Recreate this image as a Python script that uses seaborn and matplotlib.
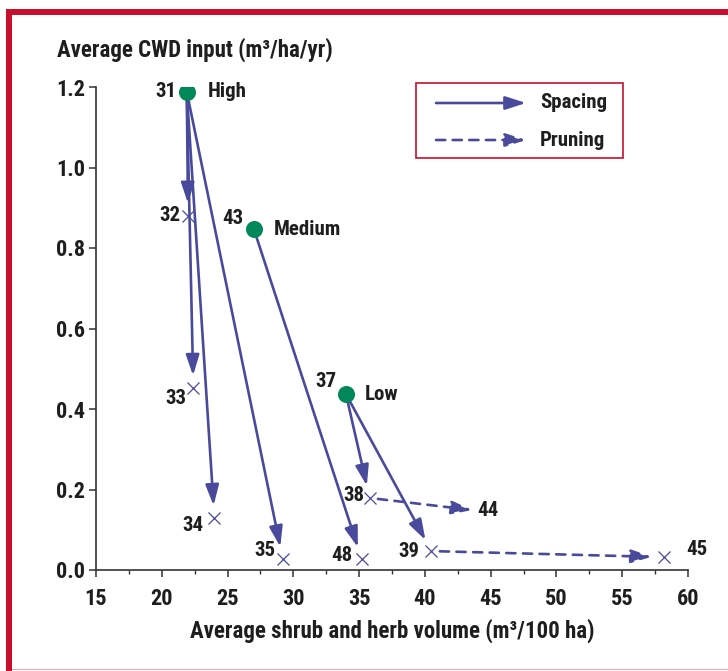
import numpy as np
import pandas as pd
import matplotlib
matplotlib.use("Agg")
import matplotlib.pyplot as plt
import seaborn as sns
from matplotlib import font_manager as fm
from matplotlib.patches import Rectangle
from matplotlib.ticker import MultipleLocator, FormatStrFormatter

# ---------------- data ----------------
start_ids = ["31", "43", "37"]
start_x = [21.9, 27.0, 34.0]
start_y = [1.188, 0.847, 0.437]
start_names = ["High", "Medium", "Low"]

result_ids = ["32", "33", "34", "35", "48", "38", "39", "45"]
result_x = [22.0, 22.4, 24.0, 29.2, 35.2, 35.8, 40.5, 58.2]
result_y = [0.880, 0.452, 0.129, 0.027, 0.027, 0.179, 0.047, 0.032]

end_ids = ["44"]
end_x = [43.6]
end_y = [0.149]

spacing_from = ["31", "31", "31", "31", "43", "37", "37"]
spacing_to = ["32", "33", "34", "35", "48", "38", "39"]
pruning_from = ["38", "39"]
pruning_to = ["44", "45"]

x_ticks = [15, 20, 25, 30, 35, 40, 45, 50, 55, 60]
y_ticks = [0.0, 0.2, 0.4, 0.6, 0.8, 1.0, 1.2]

x_label = "Average shrub and herb volume (m³/100 ha)"
y_label = "Average CWD input (m³/ha/yr)"
legend_labels = ["Spacing", "Pruning"]

# ---------------- style ----------------
sns.set_style("ticks")
ttf = fm.fontManager.ttflist
names = {f.name for f in ttf}
FAM, STRETCH = None, "normal"
for p in ["Roboto Condensed", "Liberation Sans Narrow", "Noto Sans Condensed",
          "Open Sans Condensed", "DejaVu Sans Condensed", "Arial Narrow"]:
    if p in names:
        FAM = p
        break
if FAM is None:
    narrow = sorted({f.name for f in ttf if ("Condensed" in f.name or "Narrow" in f.name)})
    if narrow:
        FAM = narrow[0]
if FAM is None:
    for p in ["Roboto", "Noto Sans", "Open Sans", "Liberation Sans", "DejaVu Sans"]:
        if any(f.name == p and "condensed" in str(f.stretch) for f in ttf):
            FAM, STRETCH = p, "condensed"
            break
if FAM is None:
    FAM, STRETCH = "DejaVu Sans", "condensed"
NARROW_OK = FAM != "DejaVu Sans"
plt.rcParams["font.family"] = [FAM, "DejaVu Sans"]
plt.rcParams["font.weight"] = "bold"
plt.rcParams["font.stretch"] = STRETCH

FS_LAB = 16.5 if NARROW_OK else 14
FS_TICK = 16 if NARROW_OK else 13
FS_PT = 15 if NARROW_OK else 14

NAVY = "#4a4a9c"
GREEN = "#00875a"
RED = "#c8102e"
TXT = "#1e1e1e"
AX = "#333333"

W, H = 728, 671
fig = plt.figure(figsize=(W / 100, H / 100), dpi=100)
ax = fig.add_axes([96 / W, 1 - 570 / H, (688 - 96) / W, (570 - 87) / H])

coords = {}
for i, x, y in zip(start_ids, start_x, start_y):
    coords[i] = (x, y)
for i, x, y in zip(result_ids, result_x, result_y):
    coords[i] = (x, y)
for i, x, y in zip(end_ids, end_x, end_y):
    coords[i] = (x, y)

starts = pd.DataFrame({"x": start_x, "y": start_y, "id": start_ids, "name": start_names})
results = pd.DataFrame({"x": result_x, "y": result_y, "id": result_ids})

ASTYLE = "-|>,head_length=0.62,head_width=0.2"

def arrow(a, b, dashed):
    x0, y0 = coords[a]
    x1, y1 = coords[b]
    sB = 0 if b in end_ids else 9
    ax.annotate("", xy=(x1, y1), xytext=(x0, y0),
                arrowprops=dict(arrowstyle=ASTYLE,
                                color=NAVY, lw=1.9, shrinkA=6, shrinkB=sB,
                                mutation_scale=20,
                                linestyle=(0, (3.5, 2.8)) if dashed else "-"),
                zorder=2)

for a, b in zip(spacing_from, spacing_to):
    arrow(a, b, False)
for a, b in zip(pruning_from, pruning_to):
    arrow(a, b, True)

sns.scatterplot(data=results, x="x", y="y", marker="x", s=75, color=NAVY,
                linewidth=0.9, ax=ax, zorder=3, legend=False)
sns.scatterplot(data=starts, x="x", y="y", marker="o", s=150, color=GREEN,
                edgecolor=GREEN, linewidth=0, ax=ax, zorder=4, legend=False)

# point labels: offsets in pixels (dx, dy, ha)
offs = {
    "31": (-10, 0, "right"), "43": (-10, 11, "right"), "37": (-9, 13, "right"),
    "32": (-8, 0, "right"), "33": (-7, -10, "right"), "34": (-11, -7, "right"),
    "35": (-7, 9, "right"), "48": (-9, 4, "right"), "38": (-5, 2, "right"),
    "39": (-12, 0, "right"), "44": (5, 0, "left"), "45": (22, 8, "left"),
}
for k, (dx, dy, ha) in offs.items():
    ax.annotate(k, xy=coords[k], xytext=(dx, dy), textcoords="offset pixels",
                ha=ha, va="center", fontsize=FS_PT, color=TXT, fontweight="bold")
name_off = {"High": 21, "Medium": 20, "Low": 19}
for i, nm in zip(start_ids, start_names):
    ax.annotate(nm, xy=coords[i], xytext=(name_off[nm], 0), textcoords="offset pixels",
                ha="left", va="center", fontsize=FS_PT, color=TXT, fontweight="bold")

# axes
ax.set_xlim(15, 60)
ax.set_ylim(0, 1.2)
ax.set_xticks(x_ticks)
ax.set_yticks(y_ticks)
ax.xaxis.set_minor_locator(MultipleLocator(2.5))
ax.yaxis.set_major_formatter(FormatStrFormatter("%.1f"))
ax.set_xticklabels([str(t) for t in x_ticks])
sns.despine(ax=ax)
for s in ["left", "bottom"]:
    ax.spines[s].set_color(AX)
    ax.spines[s].set_linewidth(1.2)
ax.tick_params(axis="both", which="major", length=5, width=1.1, color=AX,
               labelsize=FS_TICK, labelcolor=TXT)
ax.tick_params(axis="x", which="major", pad=8)
ax.tick_params(axis="y", which="major", pad=3)
ax.tick_params(axis="x", which="minor", length=3, width=1.0, color=AX)
for lab in ax.get_xticklabels() + ax.get_yticklabels():
    lab.set_fontweight("bold")
ax.set_xlabel(x_label, fontsize=FS_LAB, fontweight="bold", color=TXT, labelpad=6)
ax.set_ylabel("")
fig.text(57 / W, 1 - 50 / H, y_label, ha="left", va="center", fontsize=FS_LAB,
         fontweight="bold", color=TXT)

# legend box
fig.add_artist(Rectangle((416 / W, 1 - 158 / H), (623 - 416) / W, (158 - 83) / H,
                         transform=fig.transFigure, fill=False, edgecolor=RED, lw=1.2))
for lab, yy, dashed in zip(legend_labels, [103, 140], [False, True]):
    ax.annotate("", xy=(526 / W, 1 - yy / H), xytext=(436 / W, 1 - yy / H),
                xycoords="figure fraction", textcoords="figure fraction",
                arrowprops=dict(arrowstyle=ASTYLE,
                                color=NAVY, lw=1.9, shrinkA=0, shrinkB=0,
                                mutation_scale=20,
                                linestyle=(0, (3.5, 2.8)) if dashed else "-"),
                annotation_clip=False)
    fig.text(540 / W, 1 - yy / H, lab, ha="left", va="center", fontsize=FS_PT,
             fontweight="bold", color=TXT)

# frame decoration (red border top + left, faint bottom line)
fig.add_artist(Rectangle((6 / W, 1 - 15 / H), (W - 6) / W, 6 / H,
                         transform=fig.transFigure, color=RED, lw=0))
fig.add_artist(Rectangle((6 / W, 0), 6 / W, 1 - 9 / H,
                         transform=fig.transFigure, color=RED, lw=0))
fig.add_artist(Rectangle((12 / W, 1 / H), (W - 12) / W, 1.5 / H,
                         transform=fig.transFigure, color="#eaa3ab", lw=0))

fig.savefig("out.png", dpi=100)
